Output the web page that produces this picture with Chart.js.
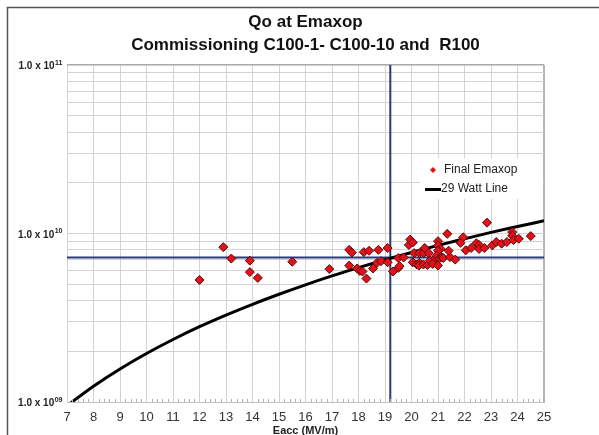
<!DOCTYPE html>
<html>
<head>
<meta charset="utf-8">
<script src="https://cdn.jsdelivr.net/npm/chart.js@4.4.1/dist/chart.umd.min.js"></script>
<style>
  html, body { margin: 0; padding: 0; background: #ffffff; }
  #wrap { width: 599px; height: 435px; position: relative; }
</style>
</head>
<body>
<div id="wrap"><canvas id="c" width="599" height="435"></canvas></div>
<script>
// Final Emaxop measurements: accelerating gradient (MV/m) and Qo
const eaccValues = [
  12.0, 12.9, 13.2, 13.9, 13.9, 14.2, 15.5, 16.9, 17.65, 17.75,
  17.65, 17.95, 18.05, 18.15, 18.2, 18.4, 18.3, 18.55, 18.75, 18.7,
  18.85, 19.1, 19.1, 19.3, 19.5, 19.5, 19.55, 19.7, 19.9, 19.95,
  20.05, 20.1, 20.05, 20.2, 20.3, 20.3, 20.28, 20.45, 20.5, 20.45,
  20.6, 20.65, 20.7, 20.9, 21.0, 21.0, 21.1, 21.0, 20.95, 21.05,
  21.15, 20.8, 21.0, 21.35, 21.2, 21.45, 21.65, 21.4, 21.95, 21.85,
  22.05, 22.25, 22.45, 22.55, 22.55, 22.75, 22.85, 23.05, 23.2, 23.4,
  23.6, 23.8, 23.8, 23.85, 24.05, 24.5
];
const qoValues = [
  5.3e9, 8.3e9, 7.1e9, 6.9e9, 5.9e9, 5.45e9, 6.8e9, 6.15e9, 8.0e9, 7.7e9,
  6.45e9, 6.2e9, 6.0e9, 5.95e9, 7.75e9, 7.9e9, 5.4e9, 6.2e9, 8.0e9, 6.7e9,
  6.85e9, 8.2e9, 6.75e9, 5.95e9, 7.15e9, 6.25e9, 6.4e9, 7.2e9, 8.55e9, 9.2e9,
  8.85e9, 7.65e9, 6.75e9, 6.55e9, 7.65e9, 6.7e9, 6.45e9, 7.65e9, 8.2e9, 6.55e9,
  6.5e9, 7.65e9, 6.9e9, 7.15e9, 9.0e9, 8.5e9, 8.1e9, 7.9e9, 7.4e9, 7.1e9,
  7.2e9, 6.6e9, 6.45e9, 9.95e9, 7.15e9, 7.25e9, 7.0e9, 7.9e9, 9.5e9, 8.8e9,
  7.95e9, 8.2e9, 8.75e9, 8.55e9, 8.1e9, 8.2e9, 1.16e10, 8.5e9, 8.9e9, 8.7e9,
  8.9e9, 1.02e10, 9.7e9, 9.15e9, 9.3e9, 9.65e9
];

// 29 W dissipation curve
const wattLineE = [7, 8, 9, 10, 11, 12, 13, 14, 15, 16, 17, 18, 19, 20, 21, 22, 23, 24, 25];
const wattLineQ = [
  0.95e9, 1.24e9, 1.57e9, 1.94e9, 2.35e9, 2.8e9, 3.28e9, 3.8e9, 4.36e9, 4.96e9,
  5.6e9, 6.27e9, 6.98e9, 7.72e9, 8.5e9, 9.3e9, 1.015e10, 1.1e10, 1.19e10
];

// Reference cross-hair: gradient and Qo targets
const refLineE = [19.2, 19.2];
const refLineEQ = [1e9, 1e11];
const refLineQE = [7, 25];
const refLineQ = [7.2e9, 7.2e9];

// Axis labels
const xTickLabels = ['7','8','9','10','11','12','13','14','15','16','17','18','19','20','21','22','23','24','25'];
const yLabelValues = [1e9, 1e10, 1e11];
const yLabelMantissa = ['1.0 x 10', '1.0 x 10', '1.0 x 10'];
const yLabelExponent = ['09', '10', '11'];

const titleLines = ['Qo at Emaxop', 'Commissioning C100-1- C100-10 and  R100'];
const xAxisTitle = 'Eacc (MV/m)';
const legendLabels = ['Final Emaxop', '29 Watt Line'];

const FONT = 'Arial, "Liberation Sans", Helvetica, sans-serif';
const pts = (xs, ys) => xs.map((x, i) => ({ x: x, y: ys[i] }));

const decorPlugin = {
  id: 'decor',
  beforeDraw(chart) {
    const c = chart.ctx;
    c.save();
    c.fillStyle = '#ffffff';
    c.fillRect(0, 0, chart.width, chart.height);
    c.restore();
  },
  afterDatasetsDraw(chart) {
    const c = chart.ctx;
    const a = chart.chartArea;
    const xs = chart.scales.x;
    c.save();
    // minor ticks along the bottom axis
    c.strokeStyle = '#b0b0b0';
    c.lineWidth = 1;
    for (let i = 0; i <= 90; i++) {
      if (i % 5 === 0) continue;
      const px = Math.round(xs.getPixelForValue(7 + i * 0.2)) + 0.5;
      c.beginPath();
      c.moveTo(px, a.bottom);
      c.lineTo(px, a.bottom - 3);
      c.stroke();
    }
    // legend box inside the plot
    const lx = 420, ly = 158;
    c.fillStyle = '#ffffff';
    c.fillRect(lx, ly, 123, 41);
    // marker
    c.fillStyle = '#e3121a';
    c.beginPath();
    c.moveTo(433, 167); c.lineTo(436, 170); c.lineTo(433, 173); c.lineTo(430, 170);
    c.closePath();
    c.fill();
    // line sample
    c.strokeStyle = '#000000';
    c.lineWidth = 3;
    c.beginPath();
    c.moveTo(425, 189.5); c.lineTo(441, 189.5);
    c.stroke();
    c.fillStyle = '#222222';
    c.font = '12px ' + FONT;
    c.textBaseline = 'middle';
    c.textAlign = 'left';
    c.fillText(legendLabels[0], 444, 170);
    c.fillText(legendLabels[1], 441, 189);
    c.restore();
  },
  afterDraw(chart) {
    const c = chart.ctx;
    const a = chart.chartArea;
    const ys = chart.scales.y;
    c.save();
    // y-axis power-of-ten labels with raised exponent
    c.fillStyle = '#222222';
    c.textBaseline = 'alphabetic';
    c.textAlign = 'left';
    yLabelValues.forEach((v, i) => {
      const py = ys.getPixelForValue(v);
      c.font = 'bold 7px ' + FONT;
      const we = c.measureText(yLabelExponent[i]).width;
      c.font = 'bold 10px ' + FONT;
      const wm = c.measureText(yLabelMantissa[i]).width;
      const x0 = a.left - 5 - we - wm;
      c.fillText(yLabelMantissa[i], x0, py + 4);
      c.font = 'bold 7px ' + FONT;
      c.fillText(yLabelExponent[i], x0 + wm + 0.5, py - 0.5);
    });
    const cx = (a.left + a.right) / 2;
    c.fillStyle = '#111111';
    c.textAlign = 'center';
    c.textBaseline = 'middle';
    c.font = 'bold 17px ' + FONT;
    c.fillText(titleLines[0], cx, 22);
    c.fillText(titleLines[1], cx, 45);
    c.font = 'bold 11px ' + FONT;
    c.textBaseline = 'top';
    c.fillStyle = '#222222';
    c.fillText(xAxisTitle, cx, 425);
    // outer frame
    c.strokeStyle = '#555555';
    c.lineWidth = 1.5;
    c.beginPath();
    c.moveTo(7.5, chart.height);
    c.lineTo(7.5, 7.5);
    c.lineTo(chart.width, 7.5);
    c.stroke();
    c.restore();
  }
};

new Chart(document.getElementById('c'), {
  type: 'scatter',
  data: {
    datasets: [
      {
        label: legendLabels[0],
        data: pts(eaccValues, qoValues),
        pointStyle: 'rectRot',
        pointRadius: 4.5,
        pointHoverRadius: 4.5,
        backgroundColor: '#e3121a',
        borderColor: '#5a0a0a',
        borderWidth: 1
      },
      {
        label: legendLabels[1],
        data: pts(wattLineE, wattLineQ),
        showLine: true,
        borderColor: '#000000',
        borderWidth: 3,
        pointRadius: 0,
        cubicInterpolationMode: 'monotone',
        clip: 0
      },
      {
        label: 'Eacc target',
        data: pts(refLineE, refLineEQ),
        showLine: true,
        borderColor: '#2a3a7a',
        borderWidth: 2,
        pointRadius: 0
      },
      {
        label: 'Qo target',
        data: pts(refLineQE, refLineQ),
        showLine: true,
        borderColor: '#2a3a7a',
        borderWidth: 2,
        pointRadius: 0
      }
    ]
  },
  options: {
    responsive: false,
    devicePixelRatio: 1,
    animation: false,
    events: [],
    layout: { padding: { top: 65, right: 55, left: 0, bottom: 0 } },
    plugins: {
      legend: { display: false },
      tooltip: { enabled: false },
      title: { display: false }
    },
    scales: {
      x: {
        type: 'linear',
        min: 7,
        max: 25,
        afterFit(s) { s.height = 33; },
        afterBuildTicks(s) { s.ticks = xTickLabels.map(t => ({ value: Number(t) })); },
        ticks: {
          callback: (v) => xTickLabels[xTickLabels.indexOf(String(v))] || '',
          font: { family: FONT, size: 13 },
          color: '#333333',
          padding: 8,
          maxRotation: 0,
          autoSkip: false
        },
        grid: {
          color: (ctx) => ctx.tick && ctx.tick.value === 25 ? '#b4b4b4' : '#d2d2d2',
          lineWidth: (ctx) => ctx.tick && ctx.tick.value === 25 ? 2 : 1,
          drawTicks: false
        },
        border: { color: '#c0c0c0', width: 1 }
      },
      y: {
        type: 'logarithmic',
        min: 1e9,
        max: 1e11,
        afterFit(s) { s.width = 67; },
        afterBuildTicks(s) {
          const t = [];
          for (let e = 9; e <= 10; e++) {
            for (let m = 1; m <= 9; m++) t.push({ value: m * Math.pow(10, e) });
          }
          t.push({ value: 1e11 });
          s.ticks = t;
        },
        ticks: { display: false, autoSkip: false },
        grid: {
          color: (ctx) => ctx.tick && ctx.tick.value === 1e11 ? '#a8a8a8' : '#d2d2d2',
          lineWidth: (ctx) => ctx.tick && ctx.tick.value === 1e11 ? 1.5 : 1,
          drawTicks: false
        },
        border: { display: false }
      }
    }
  },
  plugins: [decorPlugin]
});
</script>
</body>
</html>
